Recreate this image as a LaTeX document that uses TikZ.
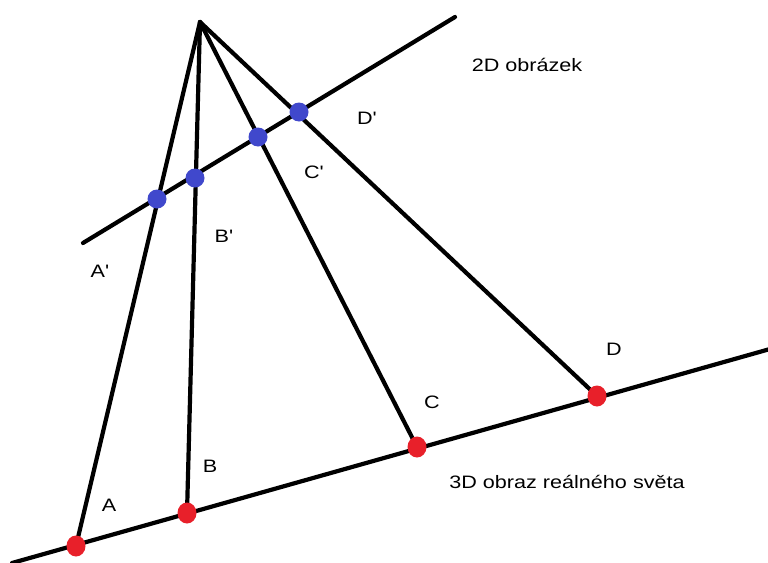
\documentclass[tikz,border=0pt]{standalone}
\usepackage{fontspec}
\usetikzlibrary{shapes.geometric}
\setmainfont{Liberation Sans}[Ligatures=TeXOff]
\definecolor{dotblue}{RGB}{64,72,204}
\definecolor{dotred}{RGB}{232,32,42}
\newcommand{\wtext}[1]{\scalebox{1.2}[1]{#1}}
\begin{document}
\begin{tikzpicture}[x=1pt,y=-1pt,
  ray/.style={line width=4.2pt,line cap=round},
  bdot/.style={circle,fill=dotblue,inner sep=0pt,minimum size=19pt},
  rdot/.style={ellipse,fill=dotred,inner sep=0pt,minimum width=19pt,minimum height=21pt},
  lab/.style={font=\fontsize{18}{20}\selectfont,inner sep=0pt}]
\useasboundingbox (0,0) rectangle (768,562);
\fill[white] (0,0) rectangle (768,562);
\coordinate (O) at (200,22);
\coordinate (P1) at (83,243);
\coordinate (P2) at (455,17);
\coordinate (Q1) at (12,563);
\coordinate (Q2) at (770,349);
\coordinate (A) at (76,546);
\coordinate (B) at (187,513);
\coordinate (C) at (417,447);
\coordinate (D) at (597,396);
\draw[ray] (P1) -- (P2);
\draw[ray] (Q1) -- (Q2);
\draw[ray] (O) -- (A);
\draw[ray] (O) -- (B);
\draw[ray] (O) -- (C);
\draw[ray] (O) -- (D);
\node[bdot] (a') at (157,199) {};
\node[bdot] (b') at (195,178) {};
\node[bdot] (c') at (258,137) {};
\node[bdot] (d') at (299,112) {};
\node[rdot] (a) at (A) {};
\node[rdot] (b) at (B) {};
\node[rdot] (c) at (C) {};
\node[rdot] (d) at (D) {};
\node[lab] (t2d) at (527,65) {\wtext{2D obrázek}};
\node[lab] (ld') at (367,118) {\wtext{D'}};
\node[lab] (lc') at (314,172) {\wtext{C'}};
\node[lab] (lb') at (224,236) {\wtext{B'}};
\node[lab] (la') at (100,271) {\wtext{A'}};
\node[lab] (ld) at (614,349) {\wtext{D}};
\node[lab] (lc) at (432,402) {\wtext{C}};
\node[lab] (lb) at (210,466) {\wtext{B}};
\node[lab] (la) at (109,505) {\wtext{A}};
\node[lab] (t3d) at (567,482) {\wtext{3D obraz reálného světa}};
\end{tikzpicture}
\end{document}
